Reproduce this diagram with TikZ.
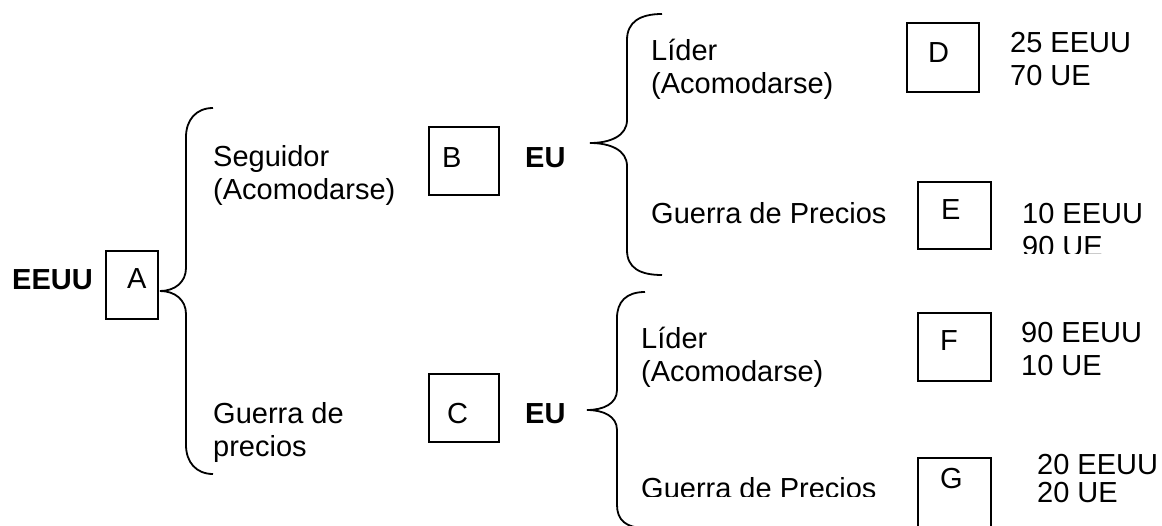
\documentclass[tikz,border=0pt]{standalone}
\usepackage{fontspec}
\setmainfont{Liberation Sans}
\begin{document}
\begin{tikzpicture}[x=1pt,y=-1pt,
  txt/.style={anchor=base west,inner sep=0pt,align=left,font=\fontsize{29}{33}\selectfont},
  btxt/.style={txt,font=\fontsize{29}{33}\selectfont\bfseries},
  box/.style={draw,line width=1.1pt,rectangle,inner sep=0pt},
  brace/.style={line width=1.8pt}]
\clip (0,0) rectangle (1162,525);
\useasboundingbox (0,0) rectangle (1162,525);
% boxes
\node[box,minimum width=52pt,minimum height=68pt] (A) at (132,285) {};
\node[box,minimum width=70pt,minimum height=68pt] (B) at (464,161) {};
\node[box,minimum width=70pt,minimum height=68pt] (C) at (464,408) {};
\node[box,minimum width=72pt,minimum height=69pt] (D) at (943,57.5) {};
\node[box,minimum width=73pt,minimum height=67pt] (E) at (954.5,215.5) {};
\node[box,minimum width=73pt,minimum height=68pt] (F) at (954.5,347) {};
\node[box,minimum width=73pt,minimum height=90pt] (G) at (954.5,503) {};
% box letters
\node[txt] (la) at (127,288) {A};
\node[txt] (lb) at (442,167) {B};
\node[txt] (lc) at (447,423) {C};
\node[txt] (ld) at (928,62) {D};
\node[txt] (le) at (941,219) {E};
\node[txt] (lf) at (940,350) {F};
\node[txt] (lg) at (940,488) {G};
% players
\node[btxt] (p1) at (12,289) {EEUU};
\node[btxt] (p2) at (525,167) {EU};
\node[btxt] (p3) at (525,423) {EU};
% moves (base anchor = last line)
\node[txt] (m1) at (213,199) {Seguidor\\(Acomodarse)};
\node[txt] (m2) at (213,456) {Guerra de\\precios};
\node[txt] (m3) at (651,93) {Líder\\(Acomodarse)};
\node[txt] (m4) at (651,223) {Guerra de Precios};
\node[txt] (m5) at (641,381) {Líder\\(Acomodarse)};
\begin{scope}
\clip (600,440) rectangle (900,496);
\node[txt] (m6) at (641,498) {Guerra de Precios};
\end{scope}
% payoffs
\node[txt] (r1) at (1010,85) {25 EEUU\\70 UE};
\begin{scope}
\clip (1000,190) rectangle (1162,253);
\node[txt] (r2) at (1022,256) {10 EEUU\\90 UE};
\end{scope}
\node[txt] (r3) at (1021,375) {90 EEUU\\10 UE};
\node[txt] (r4) at (1037,502) {20 EEUU\\[-5pt]20 UE};
% braces
\coordinate (t1) at (160,291);
\coordinate (t2) at (590,143);
\coordinate (t3) at (587,410);
\draw[brace] (213,108) .. controls (196,108) and (186,120) .. (186,137) -- (186,268)
  .. controls (186,282) and (175,291) .. (t1)
  .. controls (175,291) and (186,300) .. (186,314) -- (186,445)
  .. controls (186,462) and (196,474) .. (213,474);
\draw[brace] (662,14) .. controls (640,14) and (627,22) .. (627,40) -- (627,120)
  .. controls (627,136) and (610,143) .. (t2)
  .. controls (610,143) and (627,150) .. (627,166) -- (627,250)
  .. controls (627,268) and (640,275) .. (662,275);
\draw[brace] (645,292) .. controls (626,292) and (617,302) .. (617,318) -- (617,390)
  .. controls (617,404) and (603,410) .. (t3)
  .. controls (603,410) and (617,416) .. (617,430) -- (617,505)
  .. controls (617,520) and (626,528) .. (645,528);
\end{tikzpicture}
\end{document}
